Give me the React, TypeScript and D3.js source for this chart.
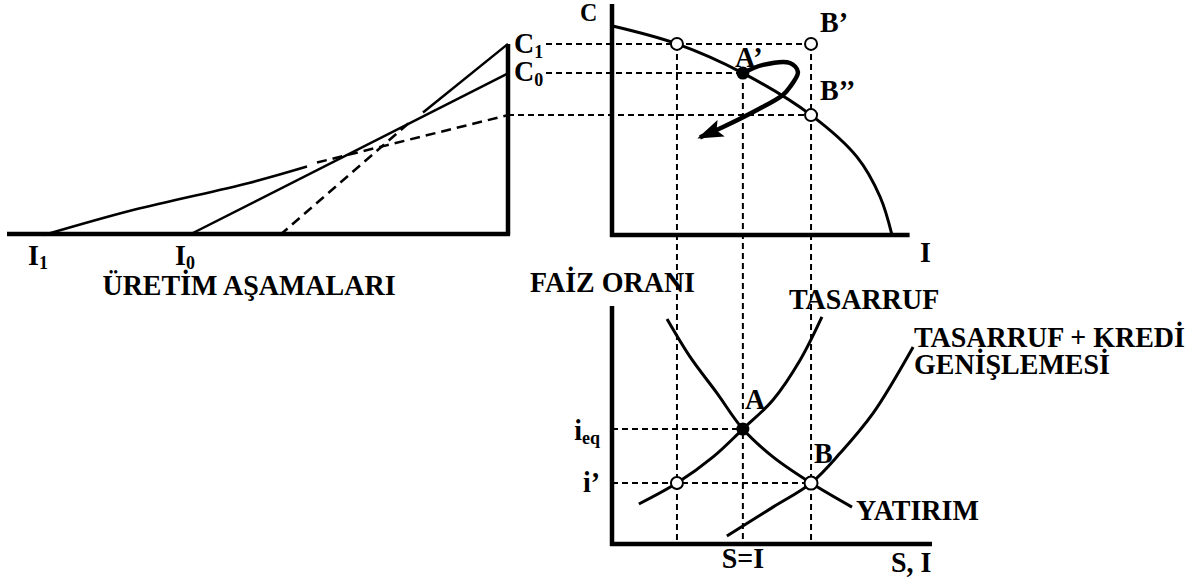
import React from "react";
import * as d3 from "d3";

const W = 1199;
const H = 580;

// ---------- Left panel: stages of production (distance from consumption) vs value ----------
const stageAxisMax = 10;
const leftAxisTop = 9.1;
const i0Line: [number, number][] = [[6.38, 0], [0, 7.7]];
const i1Curve: [number, number][] = [[9.28, 0], [7.48, 1.2], [5.18, 2.48], [4.02, 3.26]];
const i1Dashed: [number, number][] = [[3.82, 3.45], [0, 5.71]];
const c1Segment: [number, number][] = [[1.7, 5.83], [0, 9.1]];
const steepDashed: [number, number][] = [[4.56, 0], [1.96, 5.38]];

// ---------- Top right: production possibilities (I vs C) ----------
const ppfI = [0.02, 2.03, 4.09, 6.22, 7.66, 8.38, 8.75];
const ppfC = [9.95, 9.1, 7.71, 5.71, 3.71, 1.81, 0];
const cAxisMax = 11.0;
const iAxisMaxTop = 9.3;
const arrowI = [4.09, 4.72, 5.56, 5.81, 5.56, 5.34, 4.53, 3.47, 2.75];
const arrowC = [7.71, 8.1, 8.19, 7.76, 7.05, 6.67, 5.95, 5.14, 4.65];

// key levels
const C1 = 9.1;
const C0 = 7.71;
const Cb = 5.71;
const Ilow = 2.03;
const Ieq = 4.09;
const Ihigh = 6.22;

// ---------- Bottom: loanable funds (S, I vs interest rate) ----------
const rateAxisMax = 10;
const siAxisMax = 10;
const rEq = 4.83;
const rLow = 2.56;
const investI = [1.72, 2.44, 3.28, 4.09, 5.03, 6.22, 7.5];
const investR = [9.45, 7.86, 6.34, 4.83, 3.66, 2.56, 1.55];
const saveI = [0.84, 2.03, 3.16, 4.09, 5.03, 5.88, 6.56];
const saveR = [1.68, 2.56, 3.66, 4.83, 6.05, 7.73, 9.54];
const creditI = [3.59, 5.03, 6.22, 7.13, 8.16, 9.41];
const creditR = [0.34, 1.55, 2.56, 3.82, 5.5, 8.28];

// scales
const xStage = d3.scaleLinear().domain([0, 10]).range([508, 8]);
const yC = d3.scaleLinear().domain([0, 10]).range([235, 25]);
const xSI = d3.scaleLinear().domain([0, 10]).range([612, 932]);
const yRate = d3.scaleLinear().domain([0, 10]).range([544, 306]);

const FONT = "'Liberation Serif', 'Times New Roman', serif";

type TProps = {
  x: number;
  y: number;
  anchor?: "start" | "middle" | "end";
  size?: number;
  children?: React.ReactNode;
};

function T({ x, y, anchor = "start", size = 28, children }: TProps) {
  return (
    <text
      transform={`translate(${x},${y}) scale(1,1.07)`}
      textAnchor={anchor}
      fontFamily={FONT}
      fontWeight={700}
      fontSize={size}
      fill="#000"
    >
      {children}
    </text>
  );
}

export default function App() {
  const leftLine = d3
    .line<[number, number]>()
    .x((d) => xStage(d[0]))
    .y((d) => yC(d[1]));
  const leftCurve = d3
    .line<[number, number]>()
    .x((d) => xStage(d[0]))
    .y((d) => yC(d[1]))
    .curve(d3.curveCatmullRom.alpha(0.5));
  const topCurve = d3
    .line<[number, number]>()
    .x((d) => xSI(d[0]))
    .y((d) => yC(d[1]))
    .curve(d3.curveCatmullRom.alpha(0.5));
  const botCurve = d3
    .line<[number, number]>()
    .x((d) => xSI(d[0]))
    .y((d) => yRate(d[1]))
    .curve(d3.curveCatmullRom.alpha(0.5));

  const zip = (a: number[], b: number[]) => a.map((v, i) => [v, b[i]] as [number, number]);

  const axisW = 4.5;
  const curveW = 3;
  const guide = { stroke: "#000", strokeWidth: 2, strokeDasharray: "6 4", fill: "none" };
  const longDash = { stroke: "#000", strokeWidth: 2.5, strokeDasharray: "10 6", fill: "none" };
  const solid = { stroke: "#000", strokeWidth: curveW, fill: "none" };

  const xLeftAxis = xStage(0);
  const labelGap = xLeftAxis + 38;

  return (
    <svg
      width={W}
      height={H}
      style={{ position: "absolute", left: 0, top: 0, background: "#fff" }}
    >
      <defs>
        <marker
          id="ah"
          viewBox="0 0 26 18"
          refX={23}
          refY={9}
          markerUnits="userSpaceOnUse"
          markerWidth={26}
          markerHeight={18}
          orient="auto"
        >
          <path d="M0,0 L26,9 L0,18 L5,9 z" fill="#000" />
        </marker>
      </defs>

      {/* ---------- Left panel ---------- */}
      <line x1={xStage(stageAxisMax) - 1} x2={xLeftAxis + 2} y1={yC(0) - 1} y2={yC(0) - 1} stroke="#000" strokeWidth={axisW} />
      <line x1={xLeftAxis} x2={xLeftAxis} y1={yC(0)} y2={yC(leftAxisTop)} stroke="#000" strokeWidth={axisW} />
      <path d={leftLine(i0Line) || ""} {...solid} strokeWidth={2.5} />
      <path d={leftCurve(i1Curve) || ""} {...solid} strokeWidth={2.5} />
      <path d={leftLine(c1Segment) || ""} {...solid} strokeWidth={2.5} />
      <path d={leftLine(i1Dashed) || ""} {...longDash} />
      <path d={leftLine(steepDashed) || ""} {...longDash} />

      <T x={xStage(9.28) - 16} y={265}>
        I<tspan fontSize={18} dy={4}>1</tspan>
      </T>
      <T x={xStage(6.38) - 14} y={265}>
        I<tspan fontSize={18} dy={4}>0</tspan>
      </T>
      <T x={249} y={295} anchor="middle">ÜRETİM AŞAMALARI</T>
      <T x={xLeftAxis + 6} y={yC(C1) + 9}>
        C<tspan fontSize={18} dy={5}>1</tspan>
      </T>
      <T x={xLeftAxis + 6} y={yC(C0) + 8}>
        C<tspan fontSize={18} dy={5}>0</tspan>
      </T>

      {/* ---------- Guides ---------- */}
      <line x1={labelGap} x2={xSI(Ihigh)} y1={yC(C1)} y2={yC(C1)} {...guide} />
      <line x1={labelGap} x2={xSI(Ieq)} y1={yC(C0)} y2={yC(C0)} {...guide} />
      <line x1={xLeftAxis} x2={xSI(Ihigh)} y1={yC(Cb)} y2={yC(Cb)} {...guide} />
      <line x1={xSI(Ilow)} x2={xSI(Ilow)} y1={yC(C1)} y2={yRate(0)} {...guide} />
      <line x1={xSI(Ieq)} x2={xSI(Ieq)} y1={yC(C0)} y2={yRate(0)} {...guide} />
      <line x1={xSI(Ihigh)} x2={xSI(Ihigh)} y1={yC(C1)} y2={yRate(0)} {...guide} />
      <line x1={xSI(0)} x2={xSI(Ieq)} y1={yRate(rEq)} y2={yRate(rEq)} {...guide} />
      <line x1={xSI(0)} x2={xSI(Ihigh)} y1={yRate(rLow)} y2={yRate(rLow)} {...guide} />

      {/* ---------- Top right panel ---------- */}
      <line x1={xSI(0)} x2={xSI(0)} y1={yC(cAxisMax)} y2={yC(0) + 2} stroke="#000" strokeWidth={axisW} />
      <line x1={xSI(0) - 2} x2={xSI(iAxisMaxTop)} y1={yC(0)} y2={yC(0)} stroke="#000" strokeWidth={axisW} />
      <path d={topCurve(zip(ppfI, ppfC)) || ""} {...solid} />
      <path
        d={topCurve(zip(arrowI, arrowC)) || ""}
        stroke="#000"
        strokeWidth={4.5}
        fill="none"
        markerEnd="url(#ah)"
      />
      <circle cx={xSI(Ilow)} cy={yC(C1)} r={6} fill="#fff" stroke="#000" strokeWidth={2} />
      <circle cx={xSI(Ihigh)} cy={yC(C1)} r={6} fill="#fff" stroke="#000" strokeWidth={2} />
      <circle cx={xSI(Ihigh)} cy={yC(Cb)} r={6} fill="#fff" stroke="#000" strokeWidth={2} />
      <circle cx={xSI(Ieq)} cy={yC(C0)} r={6.5} fill="#000" />

      <T x={580} y={21} size={24}>C</T>
      <T x={920} y={262}>I</T>
      <T x={735} y={67}>A’</T>
      <T x={820} y={32}>B’</T>
      <T x={820} y={100}>B’’</T>

      {/* ---------- Bottom panel ---------- */}
      <line x1={xSI(0)} x2={xSI(0)} y1={yRate(rateAxisMax)} y2={yRate(0) + 2} stroke="#000" strokeWidth={axisW} />
      <line x1={xSI(0) - 2} x2={xSI(siAxisMax)} y1={yRate(0)} y2={yRate(0)} stroke="#000" strokeWidth={axisW} />
      <path d={botCurve(zip(investI, investR)) || ""} {...solid} />
      <path d={botCurve(zip(saveI, saveR)) || ""} {...solid} />
      <path d={botCurve(zip(creditI, creditR)) || ""} {...solid} />
      <circle cx={xSI(Ilow)} cy={yRate(rLow)} r={6} fill="#fff" stroke="#000" strokeWidth={2} />
      <circle cx={xSI(Ihigh)} cy={yRate(rLow)} r={6.5} fill="#fff" stroke="#000" strokeWidth={2} />
      <circle cx={xSI(Ieq)} cy={yRate(rEq)} r={6.5} fill="#000" />

      <T x={695} y={292} anchor="end">FAİZ ORANI</T>
      <T x={789} y={309}>TASARRUF</T>
      <T x={914} y={347}>TASARRUF + KREDİ</T>
      <T x={914} y={374}>GENİŞLEMESİ</T>
      <T x={856} y={520}>YATIRIM</T>
      <T x={745} y={409}>A</T>
      <T x={814} y={463}>B</T>
      <T x={600} y={440} anchor="end">
        i<tspan fontSize={18} dy={4}>eq</tspan>
      </T>
      <T x={600} y={492} anchor="end">i’</T>
      <T x={743} y={568} anchor="middle">S=I</T>
      <T x={891} y={572}>S, I</T>
    </svg>
  );
}
